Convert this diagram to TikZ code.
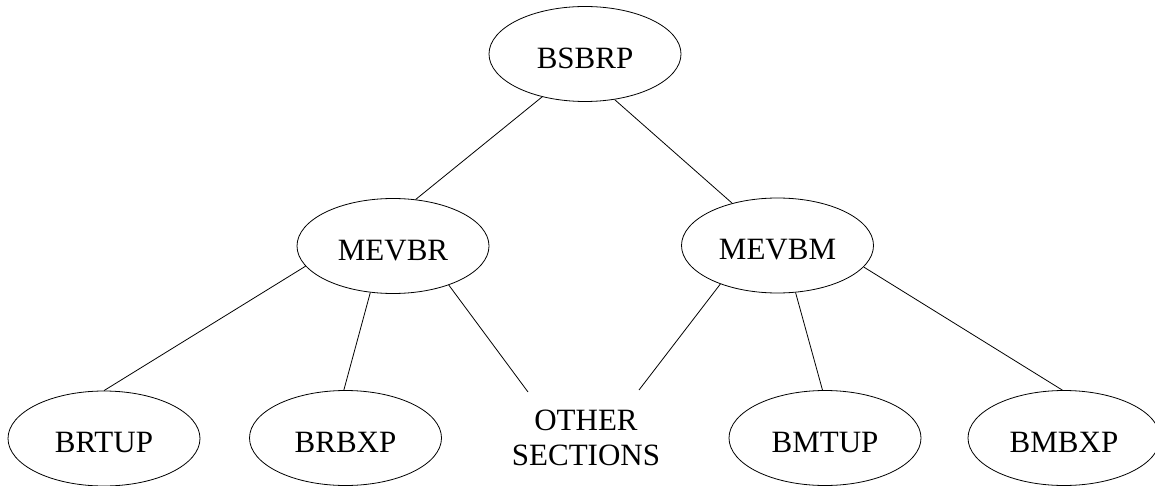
\documentclass[tikz,border=0pt]{standalone}
\usepackage{fontspec}
\setmainfont{Liberation Serif}
\usetikzlibrary{shapes.geometric}
\begin{document}
\begin{tikzpicture}[x=1pt,y=-1pt,
  unit/.style={ellipse, draw, line width=0.8pt, minimum width=192pt,
    minimum height=95pt, inner sep=0pt, text height=28.5pt, text depth=0pt,
    font=\fontsize{31}{35}\selectfont},
  link/.style={line width=0.8pt},
  caption/.style={align=center, inner sep=0pt, font=\fontsize{31}{35}\selectfont}]
\useasboundingbox (0,0) rectangle (1155,486);

% organisation units
\node[unit] (bsbrp) at (585,54)      {BSBRP};
\node[unit] (mevbr) at (393,246)     {MEVBR};
\node[unit] (mevbm) at (777.5,245.5) {MEVBM};
\node[unit] (brtup) at (104,438.5)   {BRTUP};
\node[unit] (brbxp) at (345.5,438)   {BRBXP};
\node[unit] (bmtup) at (825,438)     {BMTUP};
\node[unit] (bmbxp) at (1064,438)    {BMBXP};
\node[caption] (other) at (586,437.5) {OTHER\\SECTIONS};

% free ends of the links to the unnamed sections
\coordinate (otherL) at (528,392);
\coordinate (otherR) at (639,390);

% hierarchy links
\draw[link] (bsbrp.225.7) -- (mevbr.64.9);
\draw[link] (bsbrp.303.4) -- (mevbm.137);
\draw[link] (mevbr.193.6) -- (brtup.90);
\draw[link] (mevbr.244.9) -- (brbxp.92);
\draw[link] (mevbr.325.1) -- (otherL);
\draw[link] (mevbm.214)   -- (otherR);
\draw[link] (mevbm.291.7) -- (bmtup.93.6);
\draw[link] (mevbm.346)   -- (bmbxp.92.4);
\end{tikzpicture}
\end{document}
